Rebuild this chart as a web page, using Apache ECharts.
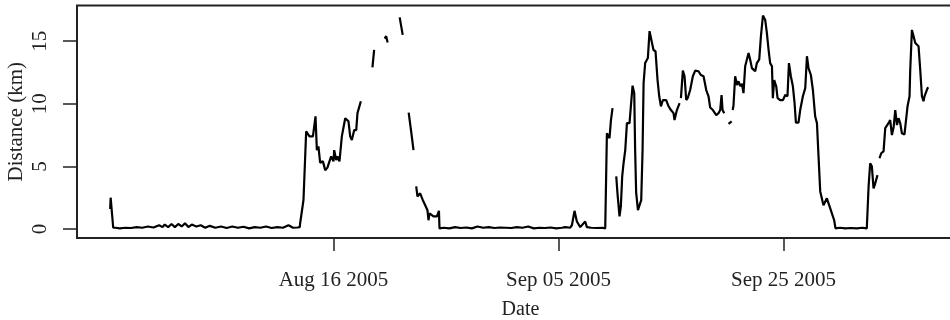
<!DOCTYPE html>
<html>
<head>
<meta charset="utf-8">
<script src="https://cdn.jsdelivr.net/npm/echarts@6/dist/echarts.min.js"></script>
<style>
html,body{margin:0;padding:0;background:#fff;}
#chart{width:950px;height:320px;}
</style>
</head>
<body>
<div id="chart"></div>
<script>
// Days since 2005-08-16 (null = gap in record)
const dayOffset = [
-19.85,-19.81,-19.67,-19.58,
-19.4,-19.0,-18.5,-18.0,-17.5,-17.0,-16.5,-16.0,-15.5,-15.2,-15.0,-14.7,-14.4,-14.1,-13.8,-13.5,-13.2,-12.9,-12.6,-12.2,-11.8,-11.4,-11.0,-10.5,-10.0,-9.5,-9.0,-8.5,-8.0,-7.5,-7.0,-6.5,-6.0,-5.5,-5.0,-4.5,-4.0,-3.6,-3.2,-3.0,
-2.96,-2.67,-2.43,-2.14,-1.83,-1.60,-1.48,-1.34,-1.19,-0.94,-0.74,-0.54,-0.36,-0.21,0.00,0.06,0.24,0.35,0.53,0.74,1.04,1.33,1.48,1.63,1.84,2.02,2.13,2.26,2.43,
null,
3.46,3.61,
null,
4.55,4.68,4.81,
null,
5.88,6.15,
null,
6.68,6.90,7.11,
null,
7.35,7.46,7.70,7.94,8.15,8.35,8.44,8.53,8.89,9.19,9.37,9.42,
9.8,10.3,10.8,11.3,11.8,12.3,12.8,13.3,13.8,14.3,14.8,15.3,15.8,16.3,16.8,17.3,17.8,18.3,18.8,19.3,19.8,20.3,20.6,21.04,
21.19,21.42,21.63,21.93,22.37,22.52,22.9,23.4,23.9,24.15,
24.30,24.44,24.53,24.66,24.80,
null,
25.13,25.24,25.42,25.54,25.66,25.78,25.93,26.08,26.31,26.43,26.58,26.73,26.81,26.90,27.06,27.20,27.35,27.47,27.56,27.70,27.94,28.09,28.24,28.44,28.62,28.80,28.95,29.10,29.28,29.57,29.78,29.99,30.22,30.31,30.52,30.76,
null,
30.88,31.05,31.20,31.35,31.50,31.70,31.94,32.15,32.44,32.65,32.89,33.13,33.33,33.48,33.72,34.02,34.22,34.37,34.49,34.58,34.73,
null,
35.11,35.26,35.39,
null,
35.48,35.55,35.70,35.86,36.00,36.15,36.30,36.44,36.59,36.89,37.04,37.19,37.33,37.48,37.63,37.84,37.99,38.17,38.37,38.52,38.67,38.81,38.97,39.05,39.17,39.35,39.47,39.70,39.95,40.15,40.35,40.48,40.65,40.83,40.98,41.10,41.33,41.48,41.72,41.93,42.08,42.22,42.43,42.61,42.81,42.97,43.11,43.26,43.41,43.55,43.70,43.85,44.00,44.15,44.30,44.50,44.62,
45.0,45.5,46.0,46.5,47.0,47.4,
47.56,47.70,47.85,48.00,48.15,48.35,
null,
48.53,48.68,48.89,49.04,49.19,49.33,49.48,49.63,49.78,49.93,50.08,50.22,50.37,50.52,50.75,50.90,51.02,51.20,51.26,51.41,51.56,51.71,51.85,52.00,52.15,52.30,52.44,52.53,52.68,52.80,52.89
];
const distanceKm = [
1.6,2.5,2.4,0.1,
0.1,0.05,0.1,0.08,0.15,0.1,0.2,0.12,0.3,0.15,0.35,0.15,0.4,0.15,0.4,0.2,0.45,0.15,0.35,0.2,0.3,0.1,0.25,0.1,0.2,0.08,0.2,0.1,0.18,0.05,0.15,0.1,0.2,0.08,0.15,0.1,0.3,0.1,0.12,0.15,
0.5,2.3,7.8,7.4,7.4,9.0,6.3,6.6,5.3,5.4,4.7,4.9,5.4,5.8,5.4,6.3,5.5,5.8,5.4,7.4,8.85,8.6,7.4,7.1,7.9,7.9,9.25,9.2,10.2,
null,
12.9,14.3,
null,
15.2,15.4,14.9,
null,
16.9,15.5,
null,
9.3,7.8,6.3,
null,
3.4,2.6,2.85,2.3,1.9,1.5,0.7,1.25,1.0,1.0,1.45,0.05,
0.1,0.05,0.15,0.08,0.12,0.05,0.2,0.1,0.15,0.08,0.12,0.1,0.08,0.15,0.1,0.2,0.05,0.1,0.08,0.12,0.05,0.1,0.15,0.1,
0.3,1.45,0.6,0.15,0.6,0.15,0.1,0.08,0.1,0.05,
7.65,7.8,7.25,8.7,9.65,
null,
4.2,2.85,1.0,1.8,4.2,5.25,6.3,8.45,8.45,9.8,11.45,10.85,6.3,2.9,1.5,1.4,2.3,6.3,11.65,13.25,13.65,15.8,15.65,14.3,14.2,11.9,10.6,9.8,10.3,10.3,9.8,9.5,9.25,8.7,9.5,10.05,
null,
10.45,12.65,12.2,10.3,10.5,11.1,12.2,12.65,12.6,12.3,12.2,11.1,10.6,9.7,9.5,9.1,9.25,9.5,10.7,9.5,9.25,
null,
8.4,8.25,8.6,
null,
9.5,9.85,12.2,11.5,11.8,11.4,11.6,10.85,13.0,14.05,13.5,12.85,12.7,12.6,13.25,13.55,15.4,17.05,16.7,15.65,14.3,13.25,13.0,10.45,11.9,11.4,10.45,10.3,10.3,10.7,10.6,13.25,12.2,11.4,10.05,8.5,8.5,9.5,10.6,11.25,13.8,12.85,12.3,11.1,9.0,8.45,5.8,3.0,2.85,1.9,1.9,2.45,2.05,1.65,1.5,0.7,0.05,
0.1,0.05,0.08,0.05,0.1,0.05,
3.4,5.25,5.0,3.25,3.65,4.3,
null,
5.65,6.05,6.2,8.05,8.05,8.45,8.7,7.5,8.1,9.5,8.3,8.85,8.45,7.65,7.55,7.65,9.8,10.6,12.7,15.9,15.4,14.85,15.0,14.6,12.7,10.6,10.2,10.6,10.45,11.25,11.3
];
const xTickDays = [0, 20, 40];
const yTicks = [0, 5, 10, 15];
const months = ['Jan','Feb','Mar','Apr','May','Jun','Jul','Aug','Sep','Oct','Nov','Dec'];
const baseDate = Date.UTC(2005, 7, 16);

function fmtDate(v) {
  const d = new Date(baseDate + Math.round(v) * 86400000);
  const dd = String(d.getUTCDate()).padStart(2, '0');
  return months[d.getUTCMonth()] + ' ' + dd + ' ' + d.getUTCFullYear();
}

const seriesData = dayOffset.map((d, i) => (d === null || distanceKm[i] === null) ? ['-', '-'] : [d, distanceKm[i]]);

const font = 'Liberation Serif';
const chart = echarts.init(document.getElementById('chart'), null, {renderer: 'canvas'});
chart.setOption({
  animation: false,
  backgroundColor: '#ffffff',
  grid: {
    left: 77, top: 5.5, width: 887, height: 232.5,
    outerBoundsMode: 'none', containLabel: false,
    show: true, borderColor: '#222', borderWidth: 2, backgroundColor: 'transparent'
  },
  xAxis: {
    type: 'value',
    min: -22.8, max: 56.04,
    name: 'Date', nameLocation: 'middle', nameGap: 62, nameMoveOverlap: false,
    nameTextStyle: {fontFamily: font, fontSize: 20, color: '#222'},
    axisLine: {show: false, onZero: false},
    axisTick: {show: true, inside: false, length: 13, lineStyle: {color: '#222', width: 1.5}, customValues: xTickDays},
    axisLabel: {show: true, margin: 32, fontFamily: font, fontSize: 21, color: '#222', customValues: xTickDays, formatter: fmtDate},
    splitLine: {show: false}
  },
  yAxis: {
    type: 'value',
    min: -0.72, max: 17.85,
    name: 'Distance (km)', nameLocation: 'middle', nameGap: 50, nameRotate: 90, nameMoveOverlap: false,
    nameTextStyle: {fontFamily: font, fontSize: 21, color: '#222'},
    axisLine: {show: false, onZero: false},
    axisTick: {show: true, inside: false, length: 14, lineStyle: {color: '#222', width: 1.5}, customValues: yTicks},
    axisLabel: {show: true, rotate: 90, margin: 26, fontFamily: font, fontSize: 21, color: '#222', customValues: yTicks},
    splitLine: {show: false}
  },
  series: [{
    type: 'line',
    data: seriesData,
    showSymbol: false,
    connectNulls: false,
    lineStyle: {color: '#000', width: 2.2},
    clip: true
  }]
});
</script>
</body>
</html>
